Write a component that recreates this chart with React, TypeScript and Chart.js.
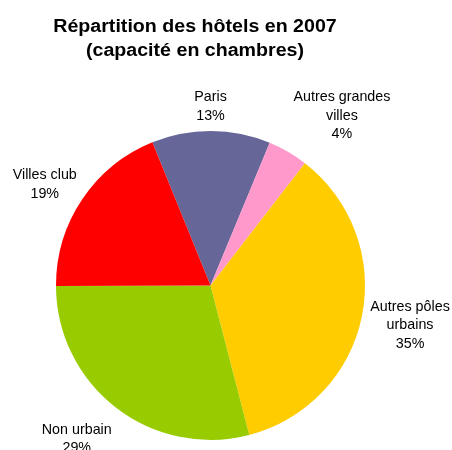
import React, { useEffect, useRef } from "react";
import { Chart, registerables } from "chart.js";

Chart.register(...registerables);

const categories = ["Paris", "Autres grandes villes", "Autres pôles urbains", "Non urbain", "Villes club"];
const values = [12.4, 4.2, 35.5, 29.0, 18.9];
const percentLabels = ["13%", "4%", "35%", "29%", "19%"];
const labelLines = [["Paris"], ["Autres grandes", "villes"], ["Autres pôles", "urbains"], ["Non urbain"], ["Villes club"]];
const colors = ["#666699", "#FF99CC", "#FFCC00", "#99CC00", "#FF0000"];
const titleLines = ["Répartition des hôtels en 2007", "(capacité en chambres)"];

// label placement: [angle from top (deg, clockwise), distance as fraction of radius]
const labelPlacement: [number, number][] = [
  [0, 1.157],
  [37.8, 1.388],
  [101.25, 1.317],
  [221.1, 1.317],
  [301.4, 1.257],
];

const textPlugin = {
  id: "texts",
  afterDraw(chart: any) {
    const ctx = chart.ctx;
    const meta = chart.getDatasetMeta(0);
    const arc = meta.data[0];
    const cx = arc.x;
    const cy = arc.y;
    const r = arc.outerRadius;
    ctx.save();
    ctx.fillStyle = "#000";
    ctx.textAlign = "center";
    ctx.textBaseline = "alphabetic";
    ctx.font = "bold 18px 'Liberation Sans', Arial, sans-serif";
    const sx = 1.09;
    ctx.save();
    ctx.translate(195, 0);
    ctx.scale(sx, 1);
    ctx.fillText(titleLines[0], 0, 31.5);
    ctx.fillText(titleLines[1], 0, 56);
    ctx.restore();

    ctx.font = "14.3px 'Liberation Sans', Arial, sans-serif";
    ctx.textBaseline = "middle";
    const lh = 18.5;
    labelPlacement.forEach(([ang, f], i) => {
      const a = (ang * Math.PI) / 180;
      const x = cx + Math.sin(a) * r * f;
      const y = cy - Math.cos(a) * r * f;
      const lines = [...labelLines[i], percentLabels[i]];
      const top = y - ((lines.length - 1) * lh) / 2;
      lines.forEach((t, j) => ctx.fillText(t, x, top + j * lh));
    });
    ctx.restore();
  },
};

export default function App() {
  const ref = useRef<HTMLCanvasElement>(null);
  useEffect(() => {
    if (!ref.current) return;
    const chart = new Chart(ref.current, {
      type: "pie",
      data: {
        labels: categories,
        datasets: [
          {
            data: values,
            backgroundColor: colors,
            borderWidth: 0,
          },
        ],
      },
      options: {
        responsive: false,
        animation: false,
        rotation: -22.1,
        layout: { padding: { left: 56, right: 87, top: 131, bottom: 10 } },
        plugins: {
          legend: { display: false },
          tooltip: { enabled: false },
          title: { display: false },
        },
      },
      plugins: [textPlugin],
    });
    return () => chart.destroy();
  }, []);
  return (
    <div style={{ position: "fixed", left: 0, top: 0, width: 452, height: 450, background: "#fff" }}>
      <canvas ref={ref} width={452} height={450} style={{ display: "block" }} />
    </div>
  );
}
